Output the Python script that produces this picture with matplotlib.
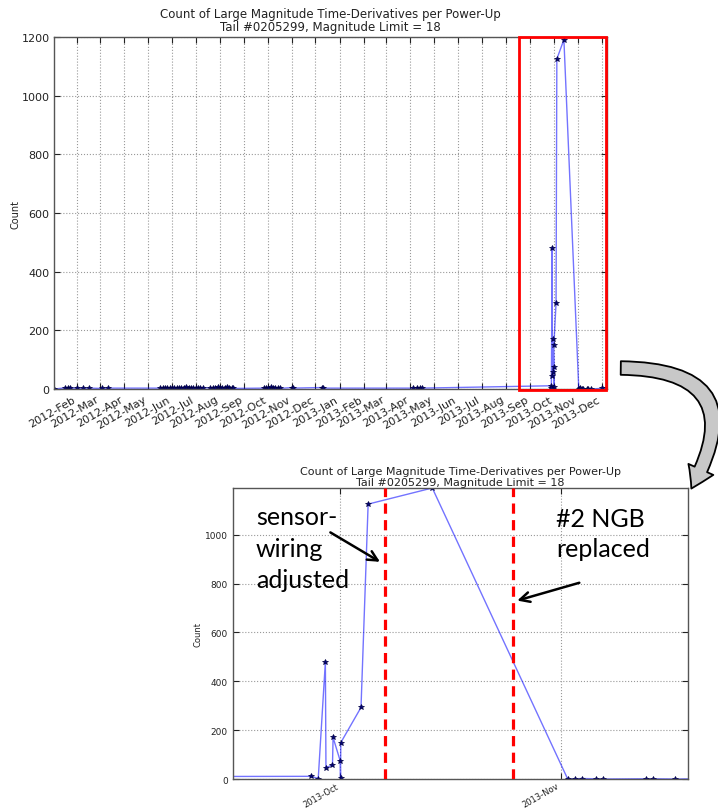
import numpy as np
import pandas as pd
import matplotlib
matplotlib.use("Agg")
import matplotlib.pyplot as plt
import matplotlib.dates as mdates
from matplotlib.patches import Rectangle, FancyArrowPatch

# power-up dates and counts
dates = [
    "2012-01-03", "2012-01-17", "2012-01-20", "2012-01-23", "2012-02-01",
    "2012-02-08", "2012-02-16", "2012-03-04", "2012-03-11",
    "2012-05-17", "2012-05-20", "2012-05-23", "2012-05-26", "2012-05-29",
    "2012-06-01", "2012-06-04", "2012-06-07", "2012-06-10", "2012-06-13",
    "2012-06-16", "2012-06-19", "2012-06-22", "2012-06-25", "2012-06-28",
    "2012-07-01", "2012-07-04", "2012-07-07", "2012-07-10",
    "2012-07-20", "2012-07-23", "2012-07-26", "2012-07-29", "2012-08-01",
    "2012-08-04", "2012-08-07", "2012-08-10", "2012-08-13", "2012-08-16",
    "2012-08-18",
    "2012-09-26", "2012-09-29", "2012-10-02", "2012-10-05", "2012-10-08",
    "2012-10-11", "2012-10-14", "2012-10-17",
    "2012-11-01", "2012-11-02", "2012-12-09", "2012-12-11",
    "2013-04-05", "2013-04-09", "2013-04-13", "2013-04-16",
    "2013-09-27", "2013-09-28", "2013-09-29 00:00", "2013-09-29 02:00",
    "2013-09-30 00:00", "2013-09-30 02:00", "2013-10-01 02:00",
    "2013-10-01 03:00", "2013-10-01 04:00", "2013-10-04", "2013-10-05",
    "2013-10-14", "2013-11-02", "2013-11-03", "2013-11-04", "2013-11-06",
    "2013-11-07", "2013-11-13", "2013-11-14", "2013-11-17", "2013-12-01",
    "2013-12-08",
]
counts = [
    0, 4, 2, 3, 3,
    2, 3, 2, 3,
    3, 4, 2, 5, 3,
    4, 2, 5, 3, 4,
    3, 6, 2, 4, 3,
    5, 3, 2, 4,
    4, 5, 3, 6, 4,
    5, 3, 6, 4, 3,
    2,
    3, 5, 4, 6, 3,
    2, 4, 2,
    5, 3, 5, 3,
    3, 4, 2, 3,
    11, 2, 479, 45,
    59, 170, 74,
    6, 149, 293, 1125,
    1191, 0, 1, 2, 1,
    0, 1, 1, 0, 2,
    3,
]

# maintenance events (zoomed chart)
events = ["2013-10-07 09:00", "2013-10-25 08:00"]
event_text = ["sensor-\nwiring\nadjusted", "#2 NGB\nreplaced"]

title = "Count of Large Magnitude Time-Derivatives per Power-Up\nTail #0205299, Magnitude Limit = 18"
zoom_range = ["2013-09-16 00:00", "2013-11-18 20:00"]
box_range = ["2013-08-18", "2013-12-07"]

t = pd.to_datetime(dates, format="mixed")
ev = pd.to_datetime(events)
W, H = 718, 812


def fpos(x, y):
    # pixel position (from top-left) -> figure fraction
    return x / W, 1 - y / H


fig = plt.figure(figsize=(W / 100, H / 100), dpi=100)
fig.patch.set_facecolor("white")

txt = "#222222"
line_kw = dict(color=(0, 0, 1, 0.55), lw=1.0, marker="*", ms=4.0,
               mfc="#000080", mec="#000040", mew=0.5)


def style_axes(ax, fs):
    ax.grid(True, color="#999999", ls=":", lw=0.8)
    ax.tick_params(direction="in", length=4, labelsize=fs, colors=txt,
                   top=True, right=True)
    for s in ax.spines.values():
        s.set_color("#555555")
        s.set_linewidth(1.0)


# ---- full history
ax1 = fig.add_axes([0.0759, 0.5197, 0.7695, 0.4335])
ax1.plot(t, counts, **line_kw)
ax1.set_xlim(t[0], t[-1])
ax1.set_ylim(0, 1200)
ax1.set_yticks(np.arange(0, 1201, 200))
ax1.xaxis.set_major_locator(mdates.MonthLocator())
ax1.xaxis.set_major_formatter(mdates.DateFormatter("%Y-%b"))
style_axes(ax1, 8)
for lab in ax1.get_xticklabels():
    lab.set_rotation(30)
    lab.set_ha("right")
ax1.set_ylabel("Count", fontsize=7, color=txt, labelpad=1)
ax1.set_title(title, fontsize=8.5, color=txt, pad=5, linespacing=1.05)

b0, b1 = pd.to_datetime(box_range)
bx0, bx1 = mdates.date2num(b0), mdates.date2num(b1)
ax1.add_patch(Rectangle((bx0, -3), bx1 - bx0, 1203, fill=False,
                        ec="red", lw=2.0, clip_on=False, zorder=5))

# ---- zoom on the last months
ax2 = fig.add_axes([0.3241, 0.0394, 0.6337, 0.3584])
ax2.plot(t, counts, **line_kw)
z0, z1 = pd.to_datetime(zoom_range)
ax2.set_xlim(z0, z1)
ax2.set_ylim(0, max(counts))
ax2.set_yticks(np.arange(0, 1001, 200))
ax2.xaxis.set_major_locator(mdates.MonthLocator())
ax2.xaxis.set_major_formatter(mdates.DateFormatter("%Y-%b"))
style_axes(ax2, 6.5)
ax2.tick_params(axis="x", labelsize=6, pad=1.5)
for lab in ax2.get_xticklabels():
    lab.set_rotation(30)
    lab.set_ha("right")
ax2.set_ylabel("Count", fontsize=6, color=txt, labelpad=2)
ax2.set_title(title, fontsize=8, color=txt, pad=2, linespacing=1.15)

for e in ev:
    ax2.axvline(e, color="red", lw=2.3, ls=(0, (3.2, 2.0)), zorder=4)

# annotations
ax2.annotate("", xy=(ev[0] - pd.Timedelta(hours=9), 883),
             xytext=fpos(328, 532), textcoords="figure fraction",
             arrowprops=dict(arrowstyle="->,head_length=0.7,head_width=0.35",
                             color="black", lw=1.8))
ax2.annotate("", xy=(ev[1] + pd.Timedelta(hours=5), 727),
             xytext=fpos(582, 583), textcoords="figure fraction",
             arrowprops=dict(arrowstyle="->,head_length=0.7,head_width=0.35",
                             color="black", lw=1.8))
fig.text(*fpos(256, 506), event_text[0], fontsize=18, family="Lato",
         va="top", ha="left", linespacing=1.45, color="black")
fig.text(*fpos(556, 508), event_text[1], fontsize=18, family="Lato",
         va="top", ha="left", linespacing=1.35, color="black")

# curved block arrow linking the two panels
arr = FancyArrowPatch(fpos(618, 369), fpos(690, 492),
                      transform=fig.transFigure,
                      connectionstyle="arc3,rad=-0.85",
                      arrowstyle="simple,head_width=1.4,head_length=1.1,tail_width=0.7",
                      mutation_scale=14, fc="#c8c8c8", ec="black", lw=1.3)
fig.patches.append(arr)

fig.savefig("out.png", dpi=100)
